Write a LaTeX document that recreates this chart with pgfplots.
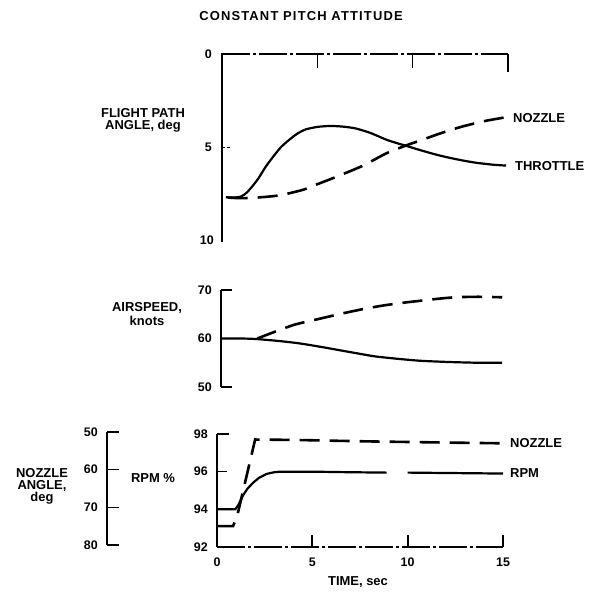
\documentclass[border=0pt]{standalone}
\usepackage{pgfplots}
\pgfplotsset{compat=1.18}
\usepackage{fontspec}
\setmainfont{Liberation Sans}
\newfontfamily\titlefont[LetterSpace=9]{Liberation Sans}
\begin{document}
\begin{tikzpicture}[font=\bfseries\fontsize{12.5}{13}\selectfont]
\path[use as bounding box] (0bp,0bp) rectangle (589bp,-592bp);
\tikzset{spine/.style={line width=2.6bp,line cap=butt},
  thinax/.style={line width=1.1bp,dash pattern=on 28bp off 3bp on 3bp off 3bp},
  tk/.style={line width=1.6bp},
  sol/.style={line width=2.2bp,black},
  dsh/.style={line width=2.6bp,black,dash pattern=on 20bp off 10bp},
  lab/.style={font=\bfseries\fontsize{13}{12}\selectfont,align=center,inner sep=0pt}}

\node[font=\titlefont\bfseries\fontsize{13}{14}\selectfont,inner sep=0pt] at (301bp,-16bp) {CONSTANT PITCH ATTITUDE};

% ---------------- top panel ----------------
\begin{axis}[at={(222bp,-54bp)},anchor=north west,scale only axis,width=286bp,height=186bp,
  xmin=0,xmax=15,ymin=0,ymax=10,y dir=reverse,hide axis,clip=false]
\draw[spine] (axis cs:0,-0.07) -- (axis cs:0,10.1);
\draw[thinax] (axis cs:0,0) -- (axis cs:15,0);
\draw[tk] (axis cs:5,0) -- ++(0bp,-14bp);
\draw[tk] (axis cs:10,0) -- ++(0bp,-14bp);
\draw[line width=2bp] (axis cs:15,0) -- ++(0bp,-18bp);
\draw[line width=0.9bp,dash pattern=on 3bp off 2bp] (axis cs:0,5) -- ++(9bp,0bp);
\node[anchor=east,inner sep=0pt] at ([xshift=-10bp]axis cs:0,0) {0};
\node[anchor=east,inner sep=0pt] at ([xshift=-10bp]axis cs:0,5) {5};
\node[anchor=east,inner sep=0pt] at ([xshift=-8bp]axis cs:0,10) {10};
% throttle
\addplot[sol,smooth,tension=0.45] coordinates {
(0.2,7.7) (0.6,7.72) (1.0,7.66) (1.3,7.45) (1.6,7.1) (1.9,6.7) (2.3,6.05) (2.7,5.5)
(3.1,5.0) (3.6,4.55) (4.0,4.25) (4.4,4.05) (5.0,3.92) (5.65,3.87) (6.3,3.9) (7.0,4.0)
(7.8,4.25) (8.6,4.6) (9.2,4.8) (9.7,4.95) (10.5,5.2) (11.2,5.4) (11.8,5.55) (12.6,5.72)
(13.35,5.85) (14.2,5.95) (14.9,6.0)};
% nozzle
\addplot[dsh,smooth,tension=0.45] coordinates {
(0.3,7.72) (1.0,7.75) (1.8,7.72) (3.0,7.6) (4.25,7.3) (5.0,7.0) (6.0,6.6) (7.4,6.0)
(8.6,5.35) (9.7,4.9) (10.4,4.65) (11.5,4.25) (12.6,3.9) (13.8,3.6) (14.9,3.4)};
\end{axis}
\node[lab,anchor=west] at (513bp,-118bp) {NOZZLE};
\node[lab,anchor=west] at (515bp,-166bp) {THROTTLE};
\node[lab] at (143bp,-113bp) {FLIGHT PATH};
\node[lab] at (143bp,-126bp) {ANGLE, deg};

% ---------------- middle panel ----------------
\begin{axis}[at={(221bp,-290bp)},anchor=north west,scale only axis,width=286bp,height=97bp,
  xmin=0,xmax=15,ymin=50,ymax=70,hide axis,clip=false]
\draw[spine] (axis cs:0,70) -- (axis cs:0,50);
\draw[tk] (axis cs:0,70) -- ++(11bp,0bp);
\draw[tk] (axis cs:0,50) -- ++(11bp,0bp);
\node[anchor=east,inner sep=0pt] at ([xshift=-9bp]axis cs:0,70) {70};
\node[anchor=east,inner sep=0pt] at ([xshift=-9bp]axis cs:0,60) {60};
\node[anchor=east,inner sep=0pt] at ([xshift=-9bp]axis cs:0,50) {50};
\addplot[sol,smooth,tension=0.45] coordinates {
(0,60) (1.0,60) (1.8,59.9) (3.0,59.5) (4.1,59.0) (5.2,58.3) (6.2,57.6) (7.2,56.9)
(8.1,56.3) (9.3,55.8) (10.5,55.4) (12.0,55.15) (13.5,55.0) (14.75,55.0)};
\addplot[dsh,smooth,tension=0.45] coordinates {
(1.9,60.0) (2.9,61.5) (3.9,62.9) (5.2,64.1) (6.4,65.2) (7.5,66.1) (8.5,66.8) (9.5,67.35)
(10.5,67.8) (11.4,68.2) (12.3,68.5) (13.5,68.6) (14.75,68.5)};
\end{axis}
\node[lab] at (147bp,-308bp) {AIRSPEED,};
\node[lab] at (147bp,-321bp) {knots};

% ---------------- bottom panel (RPM) ----------------
\begin{axis}[at={(217bp,-434bp)},anchor=north west,scale only axis,width=286bp,height=113bp,
  xmin=0,xmax=15,ymin=92,ymax=98,hide axis,clip=false]
\draw[spine] (axis cs:0,98) -- (axis cs:0,92);
\draw[thinax] (axis cs:0,92) -- (axis cs:15,92);
\draw[tk] (axis cs:0,98) -- ++(12bp,0bp);
\draw[tk] (axis cs:0,96) -- ++(10bp,0bp);
\pgfplotsinvokeforeach{5,10,15}{\draw[line width=2bp] (axis cs:#1,92) -- ++(0bp,12bp);}
\pgfplotsinvokeforeach{98,96,94,92}{\node[anchor=east,inner sep=0pt] at ([xshift=-9bp]axis cs:0,#1) {#1};}
\pgfplotsinvokeforeach{0,5,10,15}{\node[inner sep=0pt] at ([yshift=-15bp]axis cs:#1,92) {#1};}
\addplot[sol] coordinates {
(0,94) (0.96,94) (1.1,94.2) (1.25,94.5) (1.37,94.75) (1.6,95.1) (1.9,95.42) (2.2,95.67)
(2.6,95.88) (3.0,95.97) (3.3,96.0) (5,96.0) (7,95.97) (8.9,95.95)};
\addplot[sol] coordinates {(10.0,95.95) (12,95.93) (15,95.9)};
\end{axis}
% nozzle angle overlay
\begin{axis}[at={(217bp,-432bp)},anchor=north west,scale only axis,width=286bp,height=113bp,
  xmin=0,xmax=15,ymin=50,ymax=80,y dir=reverse,hide axis,clip=false]
\draw[spine] ([xshift=-110bp]axis cs:0,50) -- ([xshift=-110bp]axis cs:0,80);
\pgfplotsinvokeforeach{50,60,70,80}{
  \draw[tk] ([xshift=-110bp]axis cs:0,#1) -- ++(12bp,0bp);
  \node[anchor=east,inner sep=0pt] at ([xshift=-119bp]axis cs:0,#1) {#1};}
\addplot[dsh] coordinates {
(0,75) (0.84,75) (1.05,72.5) (2.0,52) (4,52.1) (8,52.5) (12,52.8) (15,53.0)};
\end{axis}
\node[lab,anchor=west] at (510bp,-443bp) {NOZZLE};
\node[lab,anchor=west] at (510bp,-473bp) {RPM};
\node[lab] at (42bp,-486bp) {NOZZLE\\ANGLE,\\deg};
\node[lab] at (153bp,-478bp) {RPM \%};
\node[lab] at (358bp,-582bp) {TIME, sec};
\end{tikzpicture}
\end{document}
